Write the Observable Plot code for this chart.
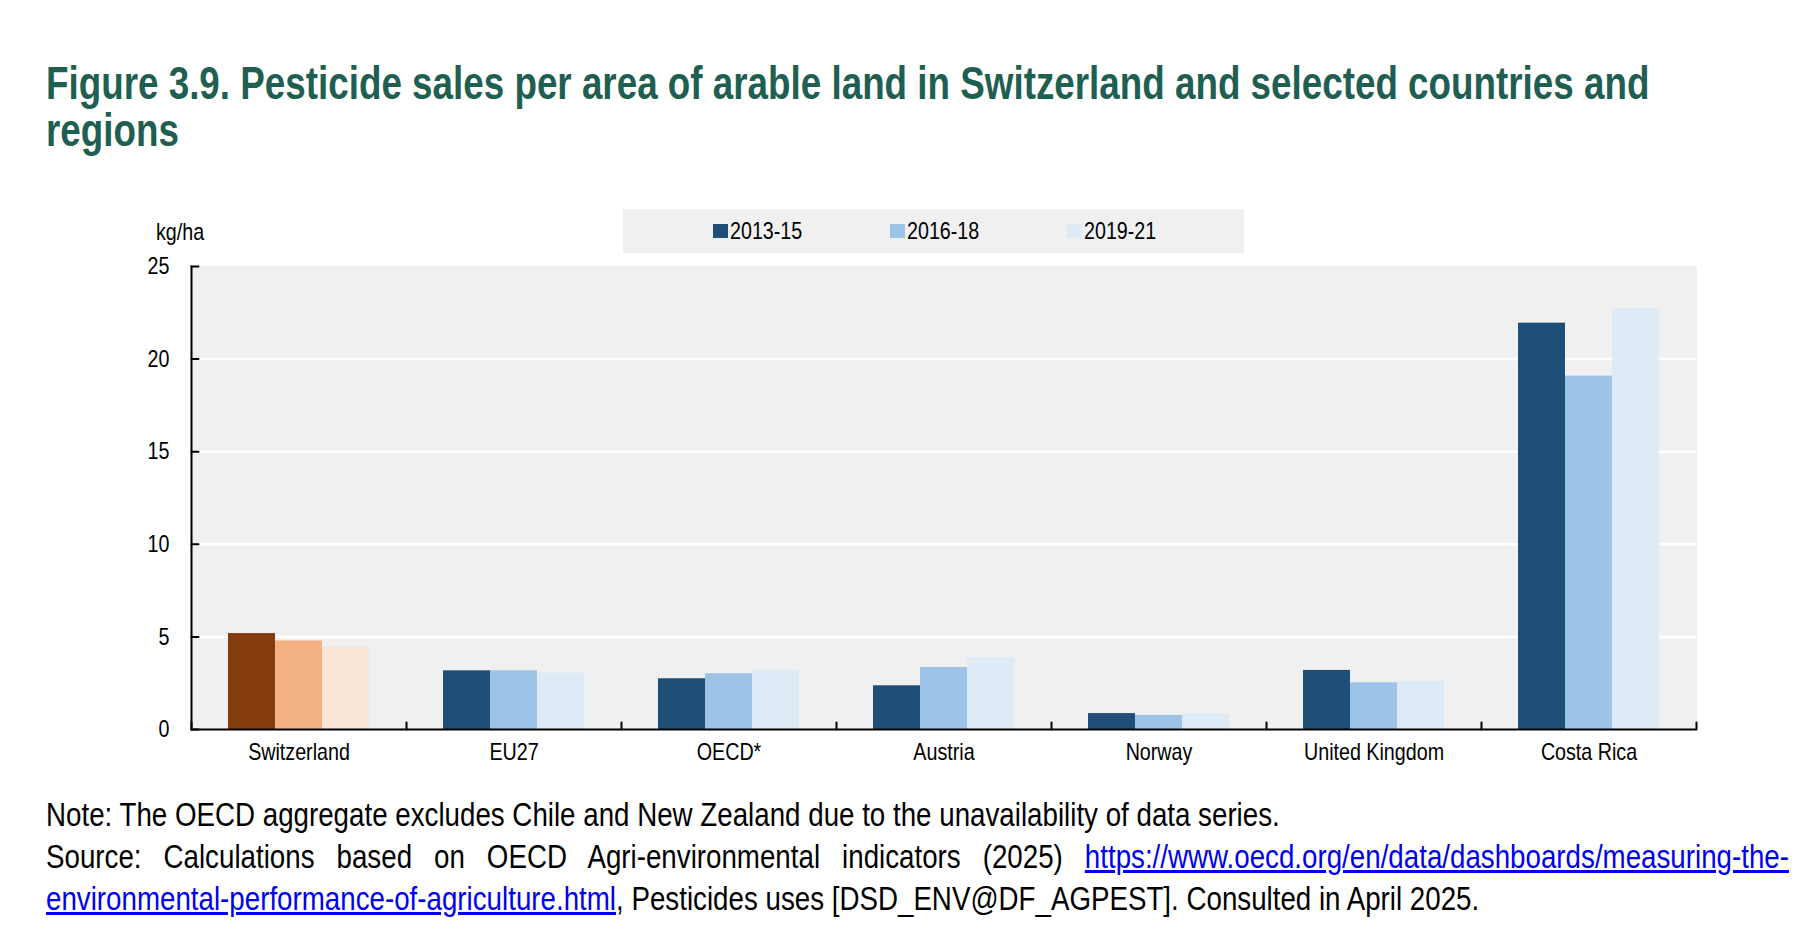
<!DOCTYPE html>
<html>
<head>
<meta charset="utf-8">
<script src="https://cdn.jsdelivr.net/npm/d3@7"></script>
<script src="https://cdn.jsdelivr.net/npm/@observablehq/plot@0.6"></script>
<style>
  html, body { margin: 0; padding: 0; background: #fff; }
  body { width: 1818px; height: 952px; position: relative; overflow: hidden;
         font-family: 'Liberation Sans', Arial, sans-serif; color: #000; }
  .abs { position: absolute; }
  /* narrow look: regular sans squeezed horizontally */
  .narrow { display: inline-block; transform-origin: left center; white-space: nowrap; }
  #title { left: 46px; top: 60px; font-size: 46px; line-height: 47px; font-weight: bold; color: #1f5f52;
           transform: scaleX(0.80); transform-origin: left top; white-space: nowrap; }
  #unit { left: 156px; top: 220px; font-size: 24px; line-height: 24px; transform: scaleX(0.82); transform-origin: left top; }
  #legend { left: 623px; top: 209px; width: 621px; height: 44px; background: #f0f0f0;
            display: flex; align-items: center; padding-left: 90px; box-sizing: border-box; }
  .item { width: 180px; display: flex; align-items: center; font-size: 24px; line-height: 24px; }
  .item .narrow { transform: scaleX(0.82); }
  .swatch { width: 15px; height: 14px; margin-right: 2px; flex: none; }
  #chart { left: 0; top: 259px; }
  #notes { left: 46px; top: 794px; width: 2075px; font-size: 33px; line-height: 42px;
           transform: scaleX(0.84); transform-origin: left top; }
  .justify { text-align: justify; text-align-last: justify; }
  #notes a { color: #0000ee; text-decoration: underline; }
</style>
</head>
<body>
<div id="title" class="abs">Figure 3.9. Pesticide sales per area of arable land in Switzerland and selected countries and<br>regions</div>
<div id="unit" class="abs">kg/ha</div>
<div id="legend" class="abs"></div>
<div id="chart" class="abs"></div>
<div id="notes" class="abs">
  <div>Note: The OECD aggregate excludes Chile and New Zealand due to the unavailability of data series.</div>
  <div class="justify">Source: Calculations based on OECD Agri-environmental indicators (2025) <a href="#">https://www.oecd.org/en/data/dashboards/measuring-the-</a></div>
  <div><a href="#">environmental-performance-of-agriculture.html</a>, Pesticides uses [DSD_ENV@DF_AGPEST]. Consulted in April 2025.</div>
</div>
<script>
// Countries / regions and the three averaging periods
const countries = ["Switzerland", "EU27", "OECD*", "Austria", "Norway", "United Kingdom", "Costa Rica"];
const periods = ["2013-15", "2016-18", "2019-21"];

// Pesticide sales, kg per hectare of arable land
const sales2013_15 = [5.18, 3.17, 2.74, 2.36, 0.86, 3.19, 21.94];
const sales2016_18 = [4.78, 3.17, 3.01, 3.35, 0.76, 2.52, 19.08];
const sales2019_21 = [4.46, 3.04, 3.20, 3.87, 0.83, 2.59, 22.72];

const yTicks = [0, 5, 10, 15, 20, 25];

// Palettes: Switzerland highlighted in browns, the rest in blues
const blueColors = ["#1f4e79", "#9dc3e6", "#deebf7"];
const swissColors = ["#843c0c", "#f4b183", "#fbe5d6"];

const series = [sales2013_15, sales2016_18, sales2019_21];
const rows = countries.flatMap((country, i) =>
  periods.map((period, j) => ({country, period, value: series[j][i]}))
);

// Legend
const legend = document.getElementById("legend");
periods.forEach((p, j) => {
  const item = document.createElement("div");
  item.className = "item";
  item.innerHTML = `<span class="swatch" style="background:${blueColors[j]}"></span><span class="narrow">${p}</span>`;
  legend.appendChild(item);
});

const FONT = "'Liberation Sans', Arial, sans-serif";
const tickShape = {draw(context, l) { context.moveTo(0, 0); context.lineTo(0, -l); }};

const chart = Plot.plot({
  width: 1818,
  height: 520,
  marginTop: 7,
  marginBottom: 50,
  marginLeft: 189,
  marginRight: 121,
  style: {fontFamily: FONT, fontSize: "24px", color: "#000", background: "transparent", overflow: "visible"},
  fx: {domain: countries, padding: 0, label: null, axis: null},
  x: {domain: periods, paddingInner: 0, paddingOuter: 0.745, axis: null},
  y: {domain: [0, 25], axis: null},
  marks: [
    Plot.frame({fill: "#f0f0f0", stroke: "#f0f0f0", strokeWidth: 1}),
    Plot.gridY(yTicks.filter(t => t > 0 && t < 25), {stroke: "#fff", strokeOpacity: 1, strokeWidth: 2.5}),
    Plot.barY(rows, {
      fx: "country",
      x: "period",
      y: "value",
      fill: d => (d.country === "Switzerland" ? swissColors : blueColors)[periods.indexOf(d.period)]
    }),
    Plot.ruleY([0], {stroke: "#000", strokeWidth: 2}),
    Plot.frame({anchor: "left", facetAnchor: "left", stroke: "#000", strokeWidth: 2}),
    Plot.vector(yTicks, {y: d => d, frameAnchor: "left", rotate: 90, length: 7, anchor: "start",
      shape: tickShape, facetAnchor: "left", stroke: "#000", strokeWidth: 2}),
    Plot.vector([0], {frameAnchor: "bottom-left", length: 7, anchor: "start",
      shape: tickShape, stroke: "#000", strokeWidth: 2}),
    Plot.vector([0], {frameAnchor: "bottom-right", length: 7, anchor: "start",
      shape: tickShape, facetAnchor: "right", stroke: "#000", strokeWidth: 2}),
    Plot.axisY({ticks: yTicks, tickSize: 0, tickPadding: 22, label: null, fontSize: 24}),
    Plot.axisFx({anchor: "bottom", tickSize: 0, tickPadding: 13, label: null, fontSize: 24})
  ]
});
document.getElementById("chart").appendChild(chart);

// Condense the axis labels horizontally to a narrow face
chart.querySelectorAll("text").forEach(t => {
  const w = t.getComputedTextLength();
  if (w > 0) {
    t.setAttribute("textLength", (w * 0.82).toFixed(2));
    t.setAttribute("lengthAdjust", "spacingAndGlyphs");
  }
});
</script>
</body>
</html>
